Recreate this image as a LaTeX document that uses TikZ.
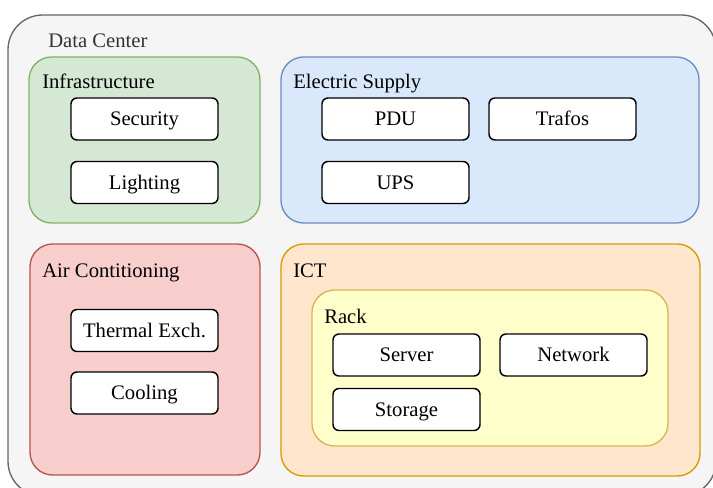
\documentclass[tikz,border=0pt]{standalone}
\usepackage{fontspec}
\setmainfont{Liberation Serif}
\usepackage{tikz}
\usetikzlibrary{calc}

\definecolor{dcfill}{HTML}{F5F5F5}
\definecolor{dcline}{HTML}{666666}
\definecolor{dctext}{HTML}{333333}
\definecolor{infrafill}{HTML}{D5E8D4}
\definecolor{infraline}{HTML}{82B366}
\definecolor{elecfill}{HTML}{DAE8FC}
\definecolor{elecline}{HTML}{6C8EBF}
\definecolor{airfill}{HTML}{F8CECC}
\definecolor{airline}{HTML}{B85450}
\definecolor{ictfill}{HTML}{FFE6CC}
\definecolor{ictline}{HTML}{D79B00}
\definecolor{rackfill}{HTML}{FFFFCC}
\definecolor{rackline}{HTML}{D6B656}

\tikzset{
    group/.style={line width=1pt, rounded corners=17pt},
    grouplabel/.style={anchor=base west, inner sep=0pt},
    item/.style={draw=black, fill=white, line width=1.1pt, rounded corners=4.5pt,
        minimum width=110.25pt, minimum height=31.5pt, inner sep=0pt,
        text height=10.3pt, text depth=0pt}
}

\begin{document}
\begin{tikzpicture}[x=0.75pt, y=-0.75pt, font=\rmfamily\fontsize{15.5}{18}\selectfont]
        \clip (0,0) rectangle (713,488);
        % outer container
        \draw[fill=dcfill, draw=dcline, line width=1pt, rounded corners=26pt] (8,15) rectangle (716,496);
        \node[grouplabel, text=dctext] (dclabel) at (48,48) {Data Center};
        % groups
        \draw[group, fill=infrafill, draw=infraline] (29,57) rectangle (260,223);
        \draw[group, fill=elecfill, draw=elecline] (281,57) rectangle (699,223);
        \draw[group, fill=airfill, draw=airline] (30,244) rectangle (260,475);
        \draw[group, fill=ictfill, draw=ictline] (281,244) rectangle (700,476);
        \draw[group, fill=rackfill, draw=rackline] (312,290) rectangle (668,446);
        \node[grouplabel] (infralabel) at (42,89) {Infrastructure};
        \node[grouplabel] (eleclabel) at (293,89) {Electric Supply};
        \node[grouplabel] (airlabel) at (42,277) {Air Contitioning};
        \node[grouplabel] (ictlabel) at (293,277) {ICT};
        \node[grouplabel] (racklabel) at (324,323) {Rack};
        % components
        \foreach \name/\x/\y/\txt in {security/144.5/119/Security, lighting/144.5/182.5/Lighting,
            pdu/395.5/119/PDU, trafos/562.5/119/Trafos, ups/395.5/182.5/UPS,
            thermal/144.5/330.5/Thermal Exch., cooling/144.5/393/Cooling,
            server/406.5/355/Server, network/573.5/355/Network, storage/406.5/409.5/Storage}
        \node[item] (\name) at (\x,\y) {\txt};
    \end{tikzpicture}
\end{document}
